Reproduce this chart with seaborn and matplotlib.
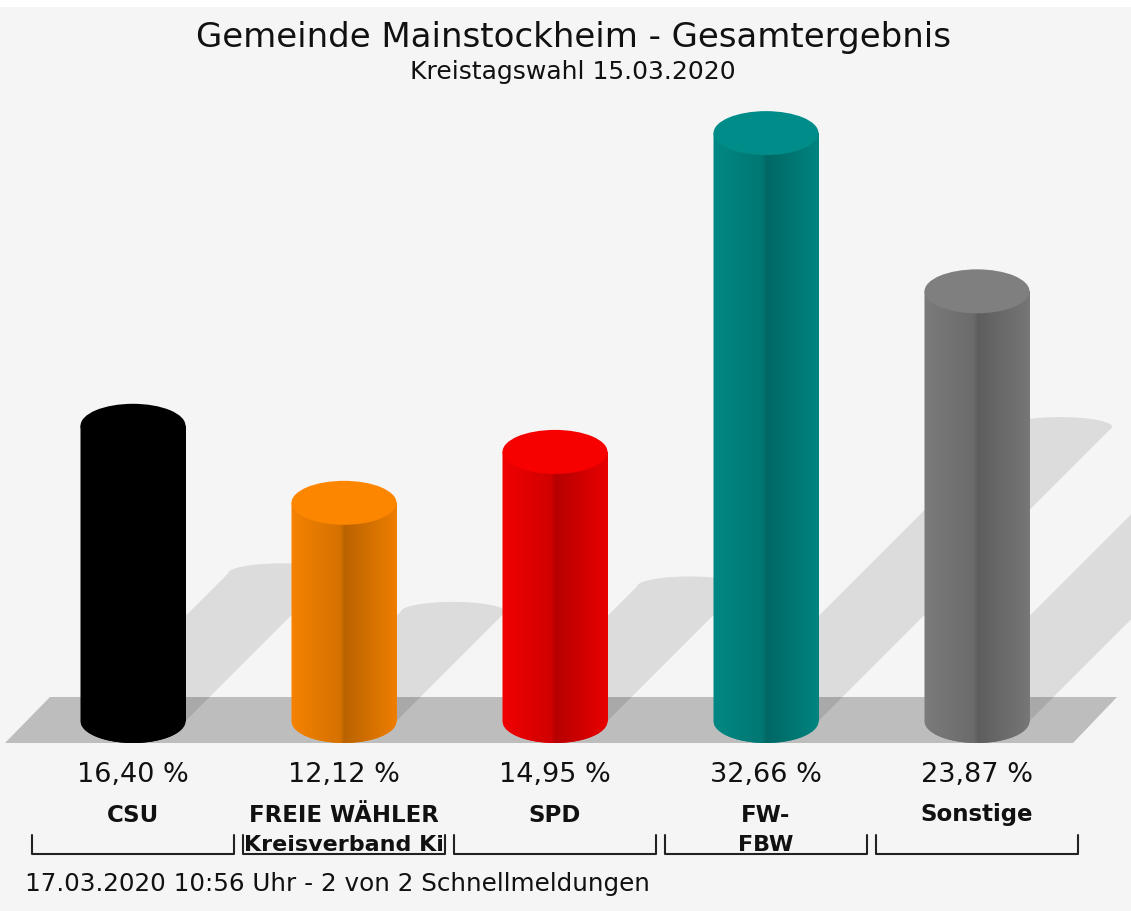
import numpy as np
import matplotlib
matplotlib.use("Agg")
import matplotlib.pyplot as plt
from matplotlib.patches import Ellipse, Polygon, PathPatch, Rectangle
from matplotlib.path import Path
import matplotlib.colors as mcolors
import seaborn as sns

# data
parties = ["CSU", "FREIE WÄHLER", "SPD", "FW-", "Sonstige"]
second_line = ["", "Kreisverband Ki", "", "FBW", ""]
shares = [16.40, 12.12, 14.95, 32.66, 23.87]
share_labels = ["16,40 %", "12,12 %", "14,95 %", "32,66 %", "23,87 %"]
bar_colors = ["#000000", "#f58200", "#f00000", "#008884", "#7b7b7b"]

title = "Gemeinde Mainstockheim - Gesamtergebnis"
subtitle = "Kreistagswahl 15.03.2020"
footer = "17.03.2020 10:56 Uhr - 2 von 2 Schnellmeldungen"

W, H = 1131, 911
BG = "#f5f5f5"

sns.set_theme(style="white")
plt.rcParams["font.family"] = ["DejaVu Sans"]

fig = plt.figure(figsize=(W / 100, H / 100), dpi=100, facecolor=BG)
ax = fig.add_axes([0, 0, 1, 1])
ax.set_facecolor(BG)

# pixel <-> data mapping: bar i centred at 133 + 211*i px, baseline at 721 px, 18 px per %
px_x = 211.0
px_y = 18.0
base_px = 721.0
xlim = (-133 / px_x, (W - 133) / px_x)
ylim = ((base_px - H) / px_y, base_px / px_y)


def ypx(p):
    return (base_px - p) / px_y


def xpx(p):
    return (p - 133) / px_x


sns.barplot(x=parties, y=shares, hue=parties, palette=bar_colors,
            width=105 / px_x, legend=False, ax=ax, saturation=1)

# floor
floor = Polygon([(xpx(5), ypx(743)), (xpx(50), ypx(697)),
                 (xpx(1117), ypx(697)), (xpx(1073), ypx(743))],
                closed=True, facecolor="#bdbdbd", edgecolor="none", zorder=1)
ax.add_patch(floor)

cap_b = 22 / px_y          # vertical semi-axis of ellipses
shadow_b = 10 / px_y
profile_t = [0.0, 0.46, 0.5, 1.0]
profile_f = [1.0, 0.87, 0.76, 0.97]
t = np.linspace(0, 1, 200)
fac = np.interp(t, profile_t, profile_f)

for i, p in enumerate(ax.patches[:len(shares)]):
    x0, w, h = p.get_x(), p.get_width(), p.get_height()
    cx = x0 + w / 2
    a = w / 2
    base = np.array(mcolors.to_rgb(p.get_facecolor()))
    p.set_zorder(3)
    p.set_edgecolor("none")

    # shadow: sheared copy, half the height, 45 degrees in pixel space
    sh_h = 0.5 * h
    dx = sh_h * px_y / px_x
    ang = np.linspace(0, np.pi, 40)
    top = [(cx + dx + a * np.cos(q), sh_h + shadow_b * np.sin(q)) for q in ang]
    pts = [(x0, 0), (x0 + w, 0)] + top
    ax.add_patch(Polygon(pts, closed=True, facecolor="black", alpha=0.1,
                         edgecolor="none", zorder=2))

    # cylinder body with shading
    ang2 = np.linspace(np.pi, 2 * np.pi, 40)
    verts = [(x0, h), (x0, 0)] + [(cx + a * np.cos(q), cap_b * np.sin(q)) for q in ang2] + [(x0 + w, h), (x0, h)]
    body = PathPatch(Path(verts), facecolor=base, edgecolor="none", zorder=3)
    ax.add_patch(body)
    grad = np.clip(base[None, :] * fac[:, None], 0, 1)[None, :, :]
    im = ax.imshow(grad, extent=[x0, x0 + w, -cap_b, h], aspect="auto",
                   interpolation="bilinear", zorder=3.1)
    im.set_clip_path(body)

    # top cap
    cap_col = np.clip(base * 1.03, 0, 1)
    ax.add_patch(Ellipse((cx, h), w, 2 * cap_b, facecolor=cap_col,
                         edgecolor="none", zorder=3.2))

    # labels
    ax.text(i, ypx(775), share_labels[i], ha="center", va="center",
            fontsize=19.5, color="#111111")
    ax.text(i, ypx(815), parties[i], ha="center", va="center",
            fontsize=16.5, fontweight="bold", color="#111111")
    if second_line[i]:
        ax.text(i, ypx(845), second_line[i], ha="center", va="center",
                fontsize=16, fontweight="bold", color="#111111")
    hw = 101 / px_x
    ax.plot([i - hw, i - hw, i + hw, i + hw], [ypx(835), ypx(854), ypx(854), ypx(835)],
            color="#222222", lw=1.5, clip_on=False, zorder=4)

ax.set_xlim(*xlim)
ax.set_ylim(*ylim)
ax.axis("off")

fig.patches.append(Rectangle((0, 1 - 7 / H), 1, 7 / H, transform=fig.transFigure,
                             facecolor="white", edgecolor="none", zorder=0))
fig.text(573 / W, 1 - 38 / H, title, ha="center", va="center", fontsize=24.5, color="#111111")
fig.text(573 / W, 1 - 72 / H, subtitle, ha="center", va="center", fontsize=18, color="#111111")
fig.text(25 / W, 1 - 884 / H, footer, ha="left", va="center", fontsize=17.7, color="#111111")

fig.savefig("out.png", dpi=100, facecolor=BG)
